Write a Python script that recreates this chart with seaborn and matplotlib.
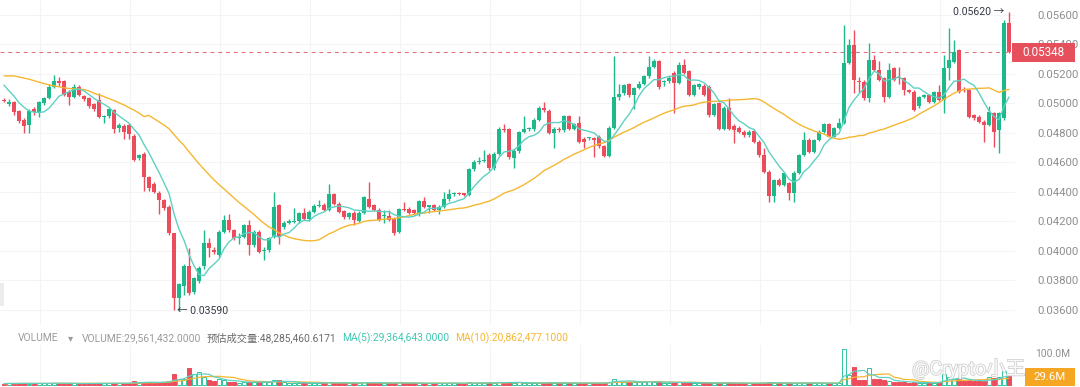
import numpy as np
import pandas as pd
import matplotlib
matplotlib.use("Agg")
import matplotlib.pyplot as plt
import seaborn as sns
from matplotlib.patches import Rectangle
import matplotlib.patheffects as pe

# ---------------- data (prices in units of 1e-5) ----------------
opens = [
    5025, 4995, 5012, 4950, 4890, 4855, 4960, 4935, 5000, 5040,
    5115, 5155, 5150, 5080, 5045, 5115, 5050, 5035, 4995, 5025,
    4910, 4915, 4955, 4835, 4850, 4855, 4780, 4630, 4660, 4500,
    4455, 4395, 4345, 4300, 4120, 3680, 3760, 3895, 3725, 3795,
    3895, 4055, 4010, 3975, 4130, 4210, 4140, 4085, 4095, 4175,
    4040, 4130, 4000, 4005, 4095, 4310, 4165, 4190, 4195, 4200,
    4255, 4215, 4265, 4305, 4315, 4280, 4385, 4320, 4270, 4230,
    4260, 4205, 4260, 4350, 4310, 4280, 4235, 4235, 4220, 4130,
    4285, 4285, 4275, 4250, 4340, 4300, 4310, 4280, 4300, 4350,
    4385, 4390, 4387, 4380, 4555, 4605, 4610, 4650, 4560, 4660,
    4830, 4825, 4630, 4675, 4810, 4825, 4825, 4890, 4970, 4950,
    4800, 4830, 4820, 4915, 4830, 4870, 4760, 4765, 4765, 4775,
    4710, 4645, 4835, 5045, 5070, 5130, 5055, 5105, 5135, 5185,
    5250, 5285, 5145, 5150, 5210, 5140, 5260, 5220, 5060, 5110,
    5120, 5115, 4925, 5000, 4830, 4970, 4850, 4835, 4810, 4785,
    4815, 4740, 4650, 4538, 4370, 4480, 4447, 4460, 4390, 4527,
    4651, 4753, 4673, 4753, 4810, 4861, 4776, 4832, 4866, 5273,
    5397, 5150, 5148, 5035, 5295, 5227, 5171, 5046, 5238, 5182,
    5171, 5092, 5080, 4980, 5046, 5058, 5012, 5080, 5024, 5238,
    5284, 5363, 5100, 5092, 4922, 4910, 4876, 4854, 4933, 4820,
    4900, 5544,
]
closes = [
    5020, 5010, 4940, 4878, 4850, 4950, 4940, 5010, 5035, 5115,
    5155, 5140, 5060, 5045, 5110, 5060, 5030, 4980, 4960, 4910,
    4915, 4960, 4830, 4855, 4805, 4790, 4620, 4650, 4505, 4425,
    4400, 4345, 4290, 4120, 3680, 3775, 3900, 3715, 3815, 3885,
    4055, 4020, 3990, 4130, 4210, 4140, 4085, 4095, 4175, 4040,
    4130, 3995, 4010, 4085, 4300, 4095, 4190, 4200, 4205, 4255,
    4220, 4265, 4305, 4315, 4280, 4385, 4320, 4265, 4230, 4255,
    4210, 4260, 4365, 4300, 4280, 4210, 4240, 4210, 4125, 4285,
    4275, 4260, 4255, 4340, 4300, 4310, 4280, 4300, 4350, 4385,
    4392, 4388, 4383, 4555, 4600, 4612, 4620, 4560, 4660, 4830,
    4820, 4635, 4680, 4810, 4825, 4828, 4890, 4970, 4955, 4800,
    4830, 4820, 4915, 4830, 4860, 4740, 4740, 4768, 4750, 4710,
    4645, 4835, 5045, 5065, 5125, 5055, 5105, 5130, 5185, 5250,
    5285, 5115, 5150, 5170, 5140, 5260, 5210, 5060, 5125, 5130,
    5060, 4920, 4995, 4830, 4970, 4830, 4820, 4810, 4785, 4810,
    4740, 4650, 4538, 4370, 4480, 4447, 4527, 4390, 4527, 4651,
    4753, 4673, 4753, 4810, 4861, 4776, 4832, 4866, 5273, 5397,
    5160, 5148, 5035, 5295, 5227, 5160, 5046, 5227, 5160, 5171,
    5092, 5080, 4956, 5046, 5058, 5012, 5080, 5024, 5238, 5295,
    5352, 5080, 5090, 4910, 4900, 4876, 4854, 4944, 4810, 4933,
    5544, 5348,
]
highs = [
    5035, 5030, 5020, 4955, 4905, 4960, 4975, 5020, 5045, 5130,
    5190, 5180, 5160, 5090, 5135, 5125, 5060, 5045, 5005, 5070,
    4920, 4970, 4965, 4865, 4860, 4865, 4790, 4660, 4670, 4510,
    4465, 4405, 4355, 4310, 4125, 3780, 3910, 4020, 3825, 3895,
    4140, 4090, 4025, 4140, 4245, 4250, 4150, 4120, 4185, 4210,
    4140, 4140, 4030, 4095, 4400, 4320, 4200, 4215, 4290, 4265,
    4290, 4275, 4320, 4345, 4325, 4455, 4395, 4330, 4280, 4265,
    4270, 4270, 4375, 4465, 4320, 4290, 4275, 4275, 4230, 4290,
    4330, 4295, 4285, 4345, 4365, 4315, 4320, 4310, 4400, 4420,
    4400, 4400, 4395, 4565, 4615, 4640, 4685, 4665, 4670, 4840,
    4860, 4835, 4690, 4815, 4915, 4840, 4900, 4980, 5010, 4960,
    4840, 4840, 4925, 4925, 4870, 4915, 4770, 4775, 4775, 4785,
    4720, 4845, 5320, 5130, 5135, 5140, 5115, 5150, 5195, 5320,
    5300, 5295, 5160, 5185, 5220, 5280, 5300, 5230, 5135, 5140,
    5130, 5125, 5005, 5010, 4980, 5040, 4860, 4845, 4820, 4820,
    4825, 4750, 4700, 4550, 4490, 4495, 4535, 4470, 4540, 4660,
    4810, 4765, 4760, 4820, 4870, 4870, 4840, 4900, 5530, 5440,
    5495, 5180, 5160, 5410, 5330, 5285, 5180, 5273, 5250, 5250,
    5180, 5100, 5090, 5050, 5065, 5065, 5085, 5125, 5330, 5510,
    5430, 5370, 5110, 5100, 4930, 4920, 4885, 4980, 4940, 4940,
    5566, 5620,
]
lows = [
    5010, 4985, 4925, 4865, 4800, 4800, 4925, 4910, 4990, 5030,
    5105, 5120, 5050, 4990, 5040, 5050, 5020, 4970, 4950, 4900,
    4870, 4905, 4800, 4805, 4760, 4760, 4610, 4620, 4410, 4410,
    4390, 4250, 4280, 4110, 3600, 3590, 3700, 3700, 3710, 3780,
    3880, 3960, 3980, 3960, 4120, 4130, 4075, 4050, 4085, 3975,
    4030, 3985, 3940, 3995, 4085, 4050, 4150, 4180, 4190, 4190,
    4210, 4205, 4255, 4295, 4270, 4270, 4310, 4255, 4220, 4220,
    4175, 4195, 4250, 4290, 4270, 4200, 4190, 4200, 4110, 4120,
    4270, 4250, 4245, 4240, 4290, 4260, 4270, 4250, 4290, 4340,
    4375, 4380, 4375, 4375, 4545, 4590, 4600, 4550, 4550, 4650,
    4810, 4625, 4560, 4665, 4800, 4815, 4815, 4880, 4945, 4790,
    4700, 4810, 4810, 4820, 4820, 4730, 4700, 4750, 4640, 4700,
    4635, 4640, 4830, 5025, 5060, 5045, 4960, 5095, 5125, 5175,
    5240, 5100, 5120, 5140, 4935, 5130, 5200, 5050, 5050, 5100,
    5050, 4910, 4915, 4820, 4820, 4820, 4730, 4800, 4775, 4775,
    4730, 4640, 4530, 4335, 4335, 4440, 4440, 4345, 4335, 4520,
    4645, 4665, 4665, 4745, 4800, 4770, 4770, 4825, 4860, 5265,
    5070, 5080, 5025, 5012, 5220, 5150, 5012, 5040, 5150, 5130,
    5058, 5070, 4950, 4970, 5040, 5005, 5005, 5015, 4933, 5160,
    5275, 5070, 5080, 4900, 4890, 4870, 4740, 4845, 4708, 4662,
    4890, 5340,
]
# volume in millions
volumes_m = [
    3, 4, 3, 5, 4, 3, 3, 4, 5, 4,
    6, 4, 3, 3, 4, 3, 3, 4, 3, 5,
    4, 4, 5, 4, 4, 5, 12, 6, 8, 7,
    6, 8, 10, 12, 34, 20, 20, 55, 37, 42,
    25, 14, 12, 20, 15, 10, 8, 6, 8, 9,
    10, 8, 7, 9, 16, 14, 7, 6, 5, 6,
    5, 6, 5, 4, 5, 8, 6, 5, 4, 5,
    6, 5, 7, 8, 5, 5, 4, 4, 6, 7,
    5, 4, 4, 5, 4, 4, 4, 5, 6, 5,
    4, 4, 3, 8, 6, 5, 5, 5, 6, 9,
    6, 8, 6, 7, 5, 4, 5, 6, 5, 7,
    6, 4, 5, 5, 4, 6, 5, 4, 5, 5,
    6, 10, 20, 12, 10, 9, 8, 7, 8, 11,
    8, 9, 6, 5, 9, 8, 6, 7, 5, 5,
    5, 6, 4, 5, 6, 6, 4, 4, 4, 4,
    5, 5, 6, 8, 6, 4, 4, 5, 5, 6,
    6, 4, 5, 5, 5, 4, 5, 6, 122, 32,
    58, 14, 14, 55, 20, 17, 14, 12, 10, 8,
    9, 6, 8, 6, 5, 6, 6, 7, 34, 26,
    18, 20, 12, 14, 11, 12, 12, 24, 22, 26,
    45, 29.561432,
]
# moving-average values visible at the left edge (history before the window)
ma7_head = [5125, 5085, 5050, 5005, 4975, 4950]
ma30_head = [5187, 5187, 5187, 5180, 5172, 5165, 5155, 5145, 5135, 5127,
             5120, 5113, 5106, 5102, 5099, 5097, 5095, 5085, 5070, 5058,
             5047, 5033, 5020, 5005, 4990, 4972, 4955, 4935, 4912]
price_ticks = [0.036, 0.038, 0.040, 0.042, 0.044, 0.046, 0.048, 0.050, 0.052, 0.054, 0.056]
last_price = 0.05348
max_price = 0.05620
min_price = 0.03590

# ---------------- styling ----------------
sns.set_theme(style="white")
plt.rcParams["font.family"] = ["Roboto", "Noto Sans CJK SC", "DejaVu Sans"]
GREEN = "#1db98a"
RED = "#ec4d5c"
TEAL = "#5fd0c2"
ORANGE = "#f5b731"
GRID = "#f4f4f4"
TICK = "#8e8e8e"

W, H = 1080, 387
fig = plt.figure(figsize=(W / 100, H / 100), dpi=100)
fig.patch.set_facecolor("white")

ax_right_px = 1015
ax = fig.add_axes([0, 1 - 325 / H, ax_right_px / W, 325 / H])
axv = fig.add_axes([0, 0, ax_right_px / W, 42 / H])

o = np.array(opens) / 1e5
c = np.array(closes) / 1e5
h = np.array(highs) / 1e5
l = np.array(lows) / 1e5
v = np.array(volumes_m, dtype=float)
n = len(c)
idx = np.arange(n)
up = c >= o
cols = np.where(up, GREEN, RED)

xlim = (-0.8, (ax_right_px - 4) / 5)
for a in (ax, axv):
    a.set_xlim(*xlim)
    for s in a.spines.values():
        s.set_visible(False)
    a.set_facecolor("white")

# grid
vgrid = [7.2 + 18 * k for k in range(12)]
for a in (ax, axv):
    for g in vgrid:
        a.axvline(g, color=GRID, lw=0.8, zorder=0)
for t in price_ticks:
    ax.axhline(t, color=GRID, lw=0.8, zorder=0)

# candles
ax.vlines(idx, l, h, colors=cols, lw=1.0, zorder=2)
body_bot = np.minimum(o, c)
body_h = np.maximum(np.abs(c - o), 0.00007)
ax.bar(idx, body_h, bottom=body_bot, width=0.72, color=cols, linewidth=0, zorder=3)

# moving averages
cs = pd.Series(c)
ma7 = cs.rolling(7).mean().to_numpy()
ma7[:6] = np.array(ma7_head) / 1e5
ma30 = cs.rolling(30).mean().to_numpy()
ma30[:29] = np.array(ma30_head) / 1e5
sns.lineplot(x=idx, y=ma30, ax=ax, color=ORANGE, lw=1.0, zorder=4, legend=False)
sns.lineplot(x=idx, y=ma7, ax=ax, color=TEAL, lw=1.0, zorder=4, legend=False)

# price line
ax.axhline(last_price, color="#e0737c", lw=0.8, ls=(0, (3.5, 3.5)), zorder=1)

# y axis
ylo = 0.036 - 15 * 0.002 / 29.5
yhi = 0.036 + 310 * 0.002 / 29.5
ax.set_ylim(ylo, yhi)
ax.set_yticks(price_ticks)
ax.set_yticklabels([f"{t:.5f}" for t in price_ticks])
ax.yaxis.tick_right()
ax.tick_params(axis="y", length=0, pad=16, labelsize=8.2, labelcolor=TICK)
ax.set_xticks([])
ax.set_ylabel("")
axv.set_ylabel("")

# extreme labels
ax.text(201 - 0.9, max_price, "0.05620 →", ha="right", va="center",
        fontsize=7.6, color="#333a44", zorder=6)
ax.text(34.6, min_price, "← 0.03590", ha="left", va="center",
        fontsize=7.6, color="#333a44", zorder=6)

# last price tag (box drawn as a patch so it covers the hidden tick label)
fig.patches.append(Rectangle((1012 / W, 1 - 62 / H), 63 / W, 19 / H, transform=fig.transFigure,
                             fc="#e5505c", ec="none", zorder=9))
fig.text(1043.5 / W, 1 - 52.5 / H, "0.05348", ha="center", va="center", fontsize=8.4,
         color="white", zorder=10)

# ---------------- volume ----------------
vcols = np.where(up, "white", RED)
ecols = np.where(up, "#33c3a0", RED)
axv.bar(idx, v, width=0.72, color=vcols, edgecolor=ecols, linewidth=0.7, zorder=3)
vs = pd.Series(v)
vma5 = vs.rolling(5, min_periods=1).mean().to_numpy()
vma10 = vs.rolling(10, min_periods=1).mean().to_numpy()
sns.lineplot(x=idx, y=vma10, ax=axv, color=ORANGE, lw=0.9, zorder=4, legend=False)
sns.lineplot(x=idx, y=vma5, ax=axv, color=TEAL, lw=0.9, zorder=4, legend=False)
axv.set_ylim(-2.5 / 0.295, (42 - 2.5) / 0.295)
axv.set_yticks([])
axv.set_xticks([])

fig.text(1035 / W, 1 - 354 / H, "100.0M", ha="left", va="center", fontsize=7.4, color=TICK)
fig.patches.append(Rectangle((1025 / W, 1 - 386 / H), 50 / W, 18 / H, transform=fig.transFigure,
                             fc="#f5a623", ec="none", zorder=9))
fig.text(1050 / W, 1 - 377 / H, "29.6M", ha="center", va="center", fontsize=8.2,
         color="white", zorder=10)

# volume header
fig.canvas.draw()
r = fig.canvas.get_renderer()
parts = [("VOLUME", "#9a9a9a", 9), ("▾", "#9a9a9a", 9),
         ("VOLUME:29,561,432.0000", "#9a9a9a", 5),
         ("预估成交量:48,285,460.6171", "#6b6b6b", 6),
         ("MA(5):29,364,643.0000", "#3ec7b3", 6),
         ("MA(10):20,862,477.1000", "#f5b731", 0)]
xp = 18
for s, col, gap in parts:
    t = fig.text(xp / W, 1 - 338 / H, s, color=col, fontsize=7.4, ha="left", va="center",
                 family=["Roboto", "Noto Sans CJK SC", "DejaVu Sans"])
    bb = t.get_window_extent(renderer=r)
    xp = bb.x1 + gap

# watermark
fig.text(912 / W, 1 - 369 / H, "@Crypto小王", ha="left", va="center", fontsize=14,
         color="white", alpha=0.9, zorder=8,
         family=["Roboto", "Noto Sans CJK SC", "DejaVu Sans"],
         path_effects=[pe.withStroke(linewidth=1.1, foreground="#c8c8c8")])

# left collapse tab
fig.patches.append(Rectangle((0, 1 - 306 / H), 4 / W, 23 / H, transform=fig.transFigure,
                             fc="#ececec", ec="none"))

fig.savefig("out.png", dpi=100, facecolor="white")
